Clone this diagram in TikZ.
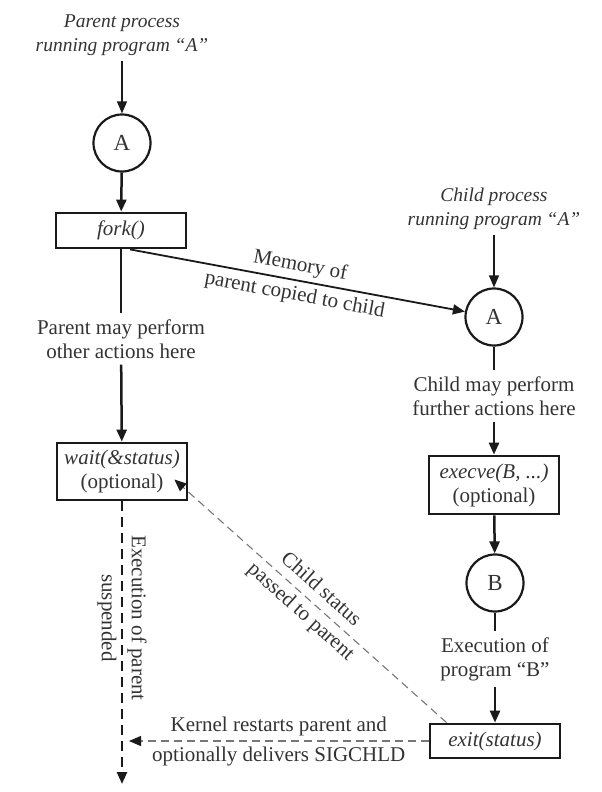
\documentclass[tikz,border=0pt]{standalone}
\usepackage{fontspec}
\setmainfont{Liberation Serif}
\usetikzlibrary{arrows.meta,calc}
\definecolor{txt}{HTML}{333333}
\definecolor{ln}{HTML}{1A1A1A}
\definecolor{dsh}{HTML}{777777}
\begin{document}
\begin{tikzpicture}[x=1pt,y=-1pt,
  every node/.style={font=\fontsize{21}{24}\selectfont, text=txt},
  tip/.style={-{Triangle[length=12pt,width=10pt]}},
  blacktip/.style={-{Triangle[length=12pt,width=10pt,color=ln]}},
  circ/.style={circle,draw=ln,line width=2.2pt,minimum size=57pt,inner sep=0pt,font=\fontsize{23}{24}\selectfont},
  procbox/.style={draw=ln,line width=2.8pt,inner sep=0pt,align=center,minimum width=130pt},
  ilabel/.style={align=center,inner sep=5pt,font=\fontsize{19.5}{24}\selectfont\itshape},
  desc/.style={align=center,inner sep=6pt},
  online/.style={align=center,font=\fontsize{21}{30}\selectfont},
  thickline/.style={draw=ln,line width=2.5pt},
  thinline/.style={draw=ln,line width=1.2pt},
  graydash/.style={draw=dsh,line width=1.1pt,dash pattern=on 8pt off 5pt},
  blackdash/.style={draw=ln,line width=2.5pt,dash pattern=on 10pt off 6pt}
]
\useasboundingbox (0,0) rectangle (602,792);

% parent column
\node[ilabel] (plabel) at (122,35) {Parent process\\running program ``A''};
\node[circ] (pA) at (122,143) {A};
\node[procbox,minimum height=35pt,font=\fontsize{21}{24}\selectfont\itshape] (fork) at (121,230.5) {fork()};
\node[desc] (ptext) at (121,339) {Parent may perform\\other actions here};
\node[procbox,minimum height=57pt] (wait) at (122,471.5) {\textit{wait(\&status)}\\(optional)};
\coordinate (pend) at (122,784);

\draw[thinline,tip] (plabel) -- (pA);
\draw[thickline,tip] (pA) -- (fork);
\draw[thickline] (fork) -- (ptext);
\draw[thickline,tip] (ptext) -- (wait);
\draw[blackdash,tip] (wait) -- (pend);
\node[online,rotate=-90] (susp) at (122,618) {Execution of parent\\suspended};

% child column
\node[ilabel] (clabel) at (494,209) {Child process\\running program ``A''};
\node[circ] (cA) at (494,317) {A};
\node[desc] (ctext) at (494,396) {Child may perform\\further actions here};
\node[procbox,minimum height=58pt] (execve) at (494,485) {\textit{execve(B, ...)}\\(optional)};
\node[circ] (cB) at (495,583) {B};
\node[desc] (btext) at (495,659) {Execution of\\program ``B''};
\node[procbox,minimum height=34pt,font=\fontsize{21}{24}\selectfont\itshape] (exit) at (495,741) {exit(status)};

\draw[thinline,tip] (clabel) -- (cA);
\draw[thickline] (cA) -- (ctext);
\draw[thickline,tip] (ctext) -- (execve);
\draw[thickline,tip] (execve) -- (cB);
\draw[thickline] (cB) -- (btext);
\draw[thickline,tip] (btext) -- (exit);

% fork copy
\coordinate (forkout) at ($(fork.south)+(9,0)$);
\draw[thinline,line width=1.8pt,tip] (forkout) -- (cA)
  node[online,midway,sloped] (memlab) {Memory of\\parent copied to child};

% child status to parent
\coordinate (cs) at ($(exit.north west)+(18,0)$);
\coordinate (ws) at ($(wait.east)+(-14,8)$);
\draw[graydash,blacktip] (cs) -- (ws)
  node[online,midway,sloped] (stlab) {Child status\\passed to parent};

% kernel restarts parent
\coordinate (kend) at ($(pend|-exit.west)+(7,0)$);
\draw[graydash,blacktip] (exit.west) -- (kend)
  node[online,midway] (klab) {Kernel restarts parent and\\optionally delivers SIGCHLD};
\end{tikzpicture}
\end{document}
